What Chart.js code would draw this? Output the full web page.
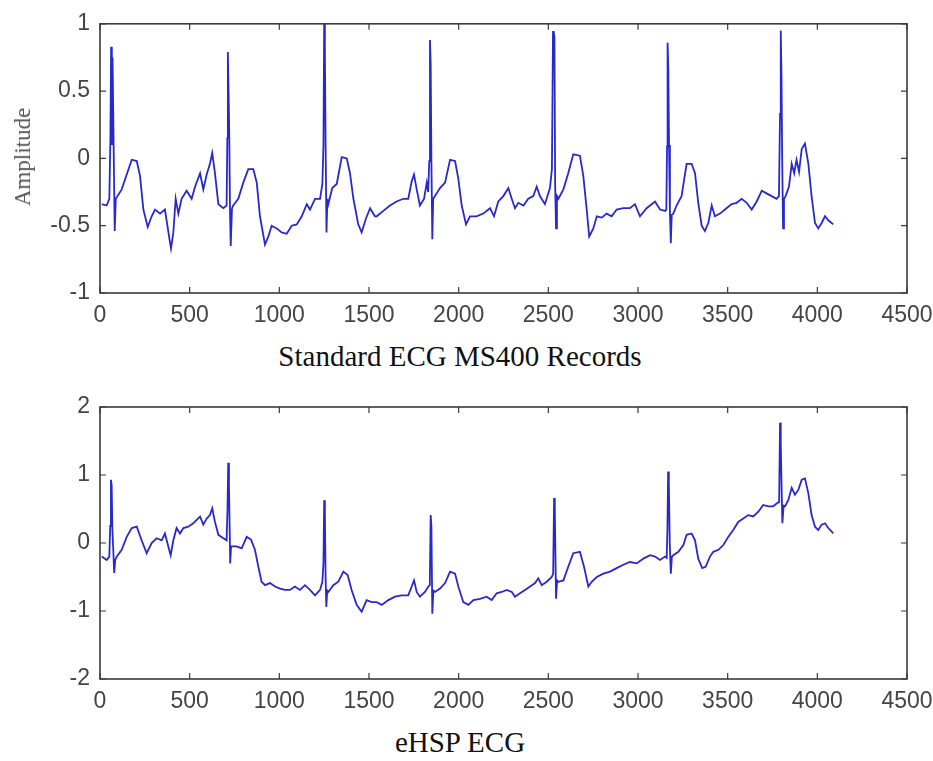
<!DOCTYPE html>
<html>
<head>
<meta charset="utf-8">
<script src="https://cdn.jsdelivr.net/npm/chart.js@4"></script>
<style>
  html, body { margin: 0; padding: 0; background: #fff; }
  body { width: 933px; height: 761px; position: relative; overflow: hidden; }
  .box { position: absolute; left: 0; }
  .title { position: absolute; left: 0; width: 920px; text-align: center;
           font-family: "Liberation Serif", "Times New Roman", serif; font-size: 29px; color: #111; }
  #ylab { position: absolute; left: 23px; top: 157px; transform: translate(-50%, -50%) rotate(-90deg);
          font-family: "Liberation Serif", serif; font-size: 23px; color: #555; white-space: nowrap; }
</style>
</head>
<body>
<div class="box" style="top:0"><canvas id="top" width="945" height="330"></canvas></div>
<div class="box" style="top:380px"><canvas id="bottom" width="945" height="330"></canvas></div>
<div id="ylab">Amplitude</div>
<div class="title" style="top:340px">Standard ECG MS400 Records</div>
<div class="title" style="top:726px">eHSP ECG</div>
<script>
// MS400 record (sample index, amplitude)
const msX = [10,37,52,58,62,66,70,76,82,88,121,149,177,205,223,242,266,288,307,335,362,385,396,409,422,437,455,483,511,530,558,576,595,613,626,641,660,688,706,710,713,717,721,725,729,736,743,771,799,827,855,874,892,920,939,957,985,1013,1041,1069,1097,1125,1153,1171,1199,1227,1240,1246,1250,1254,1258,1263,1268,1273,1295,1320,1348,1376,1394,1413,1440,1459,1482,1506,1533,1543,1580,1617,1654,1691,1719,1738,1751,1766,1784,1807,1822,1830,1836,1840,1844,1848,1853,1858,1896,1924,1952,1980,1998,2017,2041,2063,2100,2137,2175,2197,2221,2249,2277,2296,2314,2333,2361,2388,2416,2435,2453,2481,2509,2520,2526,2530,2534,2538,2543,2548,2556,2584,2611,2639,2676,2695,2714,2728,2751,2770,2798,2825,2853,2881,2918,2955,2983,3011,3048,3067,3095,3123,3151,3158,3162,3165,3169,3173,3178,3183,3188,3197,3215,3243,3271,3299,3318,3336,3355,3373,3392,3411,3429,3457,3485,3522,3550,3578,3606,3634,3662,3690,3717,3745,3773,3786,3792,3796,3800,3804,3809,3814,3823,3842,3857,3871,3884,3898,3913,3931,3950,3968,3987,4005,4024,4043,4061,4089];
const msY = [-0.34,-0.35,-0.30,0.15,0.83,0.10,0.75,0.10,-0.54,-0.30,-0.23,-0.12,-0.01,-0.02,-0.13,-0.38,-0.51,-0.43,-0.38,-0.41,-0.38,-0.58,-0.67,-0.55,-0.30,-0.41,-0.30,-0.24,-0.30,-0.21,-0.11,-0.23,-0.12,-0.04,0.04,-0.11,-0.34,-0.37,-0.35,0.15,0.79,0.49,0.15,-0.40,-0.65,-0.37,-0.35,-0.30,-0.18,-0.08,-0.08,-0.18,-0.43,-0.64,-0.58,-0.50,-0.52,-0.55,-0.56,-0.50,-0.49,-0.43,-0.34,-0.38,-0.30,-0.30,-0.19,0.10,1.00,0.80,0.10,-0.55,-0.30,-0.34,-0.22,-0.19,0.01,0.00,-0.11,-0.30,-0.49,-0.55,-0.45,-0.37,-0.43,-0.43,-0.39,-0.35,-0.32,-0.30,-0.30,-0.17,-0.12,-0.23,-0.35,-0.30,-0.18,-0.25,-0.02,0.88,0.70,-0.02,-0.60,-0.30,-0.22,-0.18,-0.01,-0.02,-0.15,-0.35,-0.49,-0.43,-0.43,-0.41,-0.37,-0.43,-0.32,-0.28,-0.22,-0.30,-0.37,-0.33,-0.35,-0.30,-0.28,-0.21,-0.28,-0.34,-0.22,-0.08,0.94,0.94,0.90,-0.20,-0.52,-0.28,-0.30,-0.23,-0.11,0.03,0.02,-0.13,-0.38,-0.58,-0.52,-0.43,-0.44,-0.41,-0.43,-0.38,-0.37,-0.37,-0.34,-0.43,-0.37,-0.35,-0.32,-0.38,-0.39,-0.38,0.09,0.86,0.67,0.10,-0.40,-0.63,-0.42,-0.41,-0.35,-0.28,-0.04,-0.04,-0.11,-0.33,-0.50,-0.54,-0.48,-0.35,-0.43,-0.41,-0.38,-0.34,-0.33,-0.30,-0.33,-0.38,-0.32,-0.24,-0.26,-0.28,-0.30,-0.28,0.33,0.95,0.62,0.00,-0.52,-0.30,-0.28,-0.21,-0.04,-0.11,-0.01,-0.10,0.07,0.11,-0.04,-0.28,-0.48,-0.52,-0.48,-0.43,-0.46,-0.49];

// eHSP record
const ehX = [10,37,52,57,61,65,69,74,79,85,93,121,149,177,205,232,260,288,316,344,362,381,394,409,427,446,465,492,520,539,558,576,595,613,626,641,660,688,706,711,715,719,722,726,731,738,762,790,818,842,864,883,901,920,948,976,1004,1032,1059,1087,1115,1143,1171,1199,1227,1240,1246,1250,1254,1258,1262,1267,1273,1301,1329,1357,1381,1403,1431,1459,1487,1515,1543,1571,1608,1645,1682,1719,1738,1751,1766,1784,1812,1831,1839,1844,1848,1853,1859,1868,1896,1924,1952,1980,1998,2026,2054,2082,2119,2156,2184,2212,2240,2268,2296,2314,2342,2370,2398,2426,2444,2463,2491,2519,2527,2532,2536,2543,2549,2556,2584,2611,2639,2676,2699,2723,2742,2770,2807,2844,2881,2918,2955,2993,3030,3067,3095,3123,3151,3160,3164,3168,3172,3177,3183,3189,3197,3225,3253,3271,3299,3318,3336,3358,3377,3401,3420,3448,3476,3503,3531,3559,3587,3615,3643,3671,3698,3726,3754,3778,3787,3792,3796,3800,3805,3812,3820,3838,3857,3875,3894,3913,3931,3950,3968,3987,4005,4024,4043,4061,4089];
const ehY = [-0.20,-0.25,-0.20,0.25,0.93,0.85,0.20,-0.10,-0.44,-0.25,-0.20,-0.10,0.09,0.22,0.24,0.04,-0.15,0.00,0.07,0.04,0.14,-0.05,-0.18,0.04,0.22,0.14,0.22,0.24,0.29,0.34,0.39,0.27,0.36,0.41,0.51,0.31,0.12,0.07,0.04,0.50,1.18,0.86,0.40,-0.30,-0.05,-0.05,-0.05,-0.08,0.09,0.05,-0.10,-0.35,-0.57,-0.62,-0.59,-0.64,-0.67,-0.69,-0.69,-0.64,-0.69,-0.62,-0.69,-0.77,-0.69,-0.57,-0.30,0.63,0.43,-0.50,-0.94,-0.70,-0.72,-0.62,-0.57,-0.42,-0.47,-0.69,-0.91,-1.01,-0.84,-0.87,-0.87,-0.91,-0.84,-0.79,-0.77,-0.77,-0.64,-0.55,-0.72,-0.79,-0.72,-0.64,-0.62,0.41,0.25,-1.04,-0.70,-0.72,-0.67,-0.59,-0.42,-0.45,-0.64,-0.87,-0.91,-0.84,-0.82,-0.79,-0.84,-0.74,-0.72,-0.69,-0.72,-0.79,-0.74,-0.69,-0.64,-0.59,-0.52,-0.62,-0.57,-0.50,-0.45,0.66,0.50,-0.82,-0.55,-0.57,-0.55,-0.35,-0.15,-0.13,-0.35,-0.64,-0.57,-0.50,-0.45,-0.42,-0.37,-0.32,-0.28,-0.30,-0.23,-0.18,-0.20,-0.25,-0.20,-0.22,0.20,1.05,0.85,0.00,-0.45,-0.20,-0.18,-0.13,-0.03,0.12,0.14,0.04,-0.23,-0.37,-0.35,-0.20,-0.13,-0.10,-0.03,0.09,0.19,0.31,0.36,0.41,0.39,0.46,0.56,0.54,0.54,0.59,0.60,1.77,1.47,0.90,0.29,0.55,0.54,0.63,0.81,0.71,0.78,0.93,0.95,0.73,0.41,0.24,0.19,0.27,0.29,0.22,0.14];

const xTicks = [0,500,1000,1500,2000,2500,3000,3500,4000,4500];

// matlab-like box with inward ticks on all four sides
const boxPlugin = {
  id: 'box',
  afterDraw(chart) {
    const {ctx, chartArea: a, scales: {x, y}} = chart;
    ctx.save();
    ctx.strokeStyle = '#3a3a3a';
    ctx.lineWidth = 1.6;
    ctx.strokeRect(a.left, a.top, a.right - a.left, a.bottom - a.top);
    ctx.lineWidth = 1.2;
    ctx.beginPath();
    x.ticks.forEach(t => {
      const px = x.getPixelForValue(t.value);
      ctx.moveTo(px, a.bottom); ctx.lineTo(px, a.bottom - 6);
      ctx.moveTo(px, a.top); ctx.lineTo(px, a.top + 6);
    });
    y.ticks.forEach(t => {
      const py = y.getPixelForValue(t.value);
      ctx.moveTo(a.left, py); ctx.lineTo(a.left + 6, py);
      ctx.moveTo(a.right, py); ctx.lineTo(a.right - 6, py);
    });
    ctx.stroke();
    ctx.restore();
  }
};

function makeChart(id, xs, ys, yMin, yMax, yStep, padTop, xAxisH) {
  const tickFont = { family: '"Liberation Sans", Arial, sans-serif', size: 23 };
  new Chart(document.getElementById(id), {
    type: 'line',
    data: {
      datasets: [{
        data: xs.map((v, i) => ({ x: v, y: ys[i] })),
        borderColor: 'rgb(40,40,205)',
        borderWidth: 1.8,
        pointRadius: 0,
        tension: 0,
        fill: false
      }]
    },
    options: {
      responsive: false,
      animation: false,
      layout: { padding: { top: padTop, right: 38, left: 0, bottom: 0 } },
      plugins: { legend: { display: false }, tooltip: { enabled: false } },
      scales: {
        x: {
          type: 'linear', min: 0, max: 4500,
          afterBuildTicks: s => { s.ticks = xTicks.map(v => ({ value: v })); },
          afterFit: s => { s.height = xAxisH; },
          grid: { display: false, drawTicks: false },
          border: { display: false },
          ticks: { font: tickFont, color: '#444', padding: 9, maxRotation: 0, autoSkip: false,
                   callback: v => String(v) }
        },
        y: {
          min: yMin, max: yMax,
          afterFit: s => { s.width = 100; },
          grid: { display: false, drawTicks: false },
          border: { display: false },
          ticks: { stepSize: yStep, font: tickFont, color: '#444', padding: 10,
                   callback: v => String(Math.round(v * 10) / 10) }
        }
      }
    },
    plugins: [boxPlugin]
  });
}

makeChart('top', msX, msY, -1, 1, 0.5, 22, 37);
makeChart('bottom', ehX, ehY, -2, 2, 1, 27, 31);
</script>
</body>
</html>
